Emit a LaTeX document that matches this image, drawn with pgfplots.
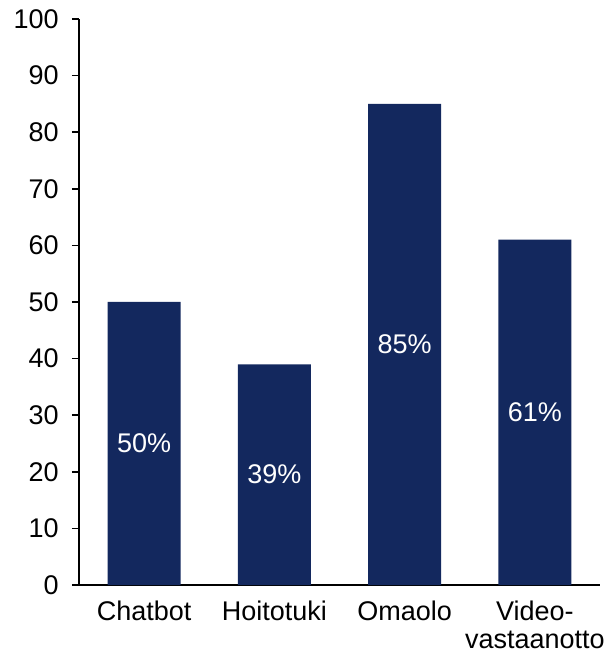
\documentclass[border=0pt]{standalone}
\usepackage{fontspec}
\setmainfont{Liberation Sans}
\usepackage{pgfplots}
\pgfplotsset{compat=1.18}

\definecolor{barnavy}{RGB}{19,40,94}

\begin{document}
\fontsize{13.5}{14}\selectfont
\begin{tikzpicture}
    % frame matching the reference's margins (1px = 0.5pt)
    \path[use as bounding box] (-39.5pt,-36.5pt) rectangle (263pt,292.5pt);
    \begin{axis}[
        at={(0,0)}, anchor=south west,
        scale only axis,
        width=260.5pt,
        height=283pt,
        axis lines*=left,
        axis line style={line width=0.8pt},
        xmin=-0.5, xmax=3.5,
        ymin=0, ymax=100,
        ytick={0,10,...,100},
        xtick=data,
        xticklabels={Chatbot,Hoitotuki,Omaolo,{Video-\\vastaanotto}},
        xticklabel style={align=center, font=\fontsize{13.5}{14}\selectfont},
        yticklabel style={font=\fontsize{13.5}{14}\selectfont, xshift=-2pt},
        x tick style={draw=none},
        y tick style={line width=0.8pt, black},
        tick align=outside,
        major tick length=3.5pt,
        /pgf/number format/assume math mode=true,
        clip=false,
    ]
    \addplot[ybar, bar width=36.5pt, fill=barnavy, draw=none] coordinates {
        (0,50) (1,39) (2,85) (3,61)
    };
    % value labels, centred in each bar
    \addplot[draw=none, mark=none,
        nodes near coords, point meta=explicit symbolic,
        every node near coord/.append style={anchor=center, text=white,
            font=\fontsize{13.5}{14}\selectfont}]
        coordinates {
        (0,25) [50\%] (1,19.5) [39\%] (2,42.5) [85\%] (3,30.5) [61\%]
    };
    \end{axis}
\end{tikzpicture}
\end{document}
